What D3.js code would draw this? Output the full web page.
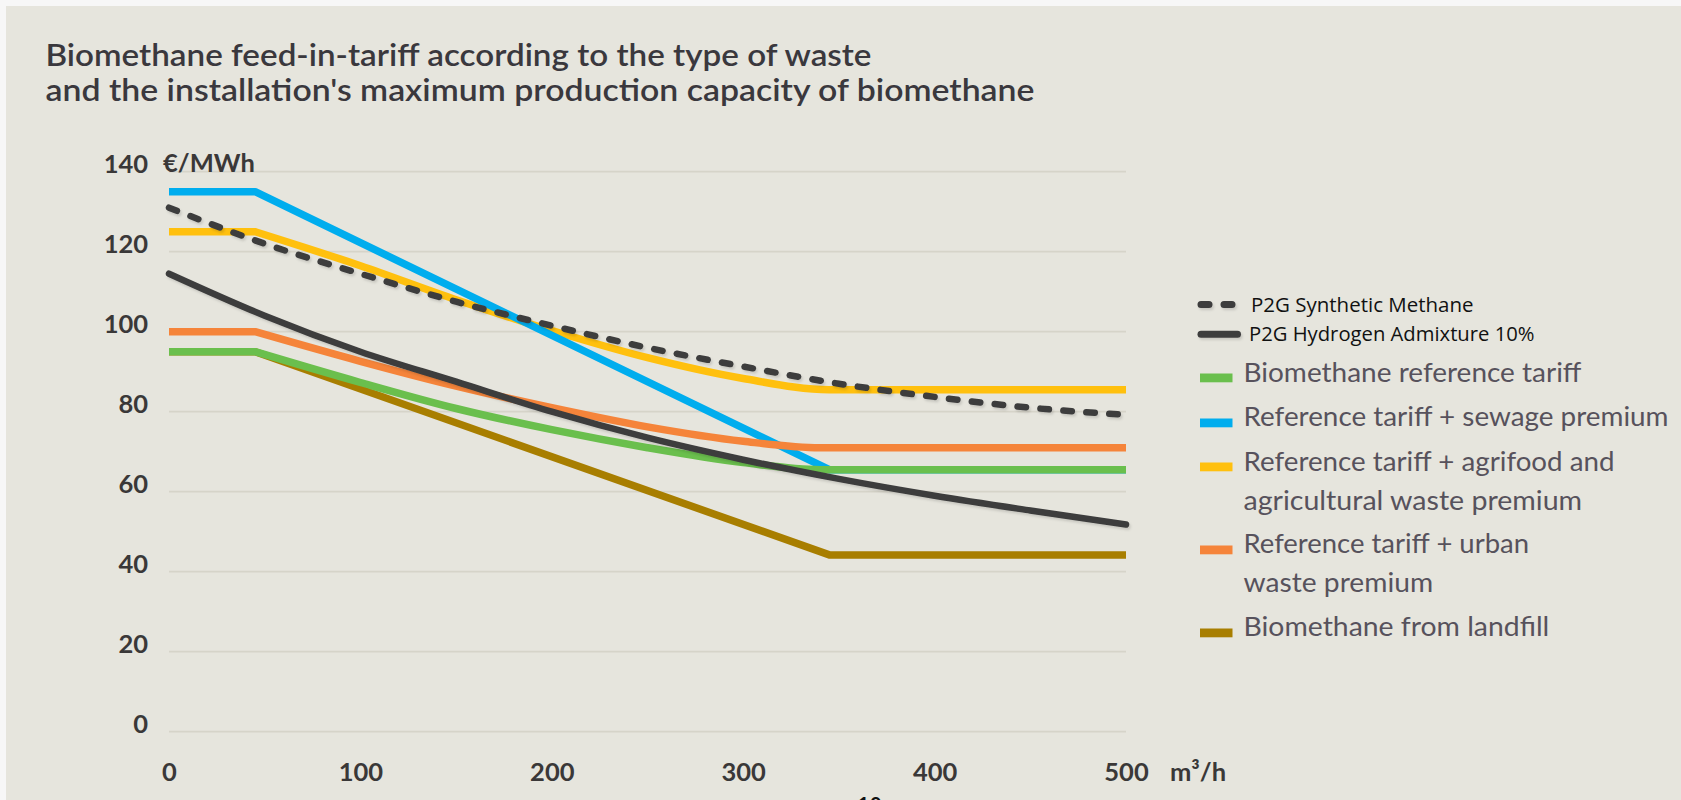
<!DOCTYPE html>
<html>
<head>
<meta charset="utf-8">
<script src="https://cdn.jsdelivr.net/npm/d3@7"></script>
<style>
  html, body { margin: 0; padding: 0; background: #f7f7f7; overflow: hidden; }
  svg { display: block; }
</style>
</head>
<body>
<svg id="chart" width="1681" height="800"></svg>
<script>
// Axis ticks
const xTicks = [0, 100, 200, 300, 400, 500];
const yTicks = [0, 20, 40, 60, 80, 100, 120, 140];

// Capacity (m³/h) and tariff (€/MWh) for each series
const synthCap   = [0, 50, 100, 150, 200, 250, 300, 350, 400, 450, 500];
const synthTariff = [131, 122, 114.5, 107.5, 101.5, 96, 91.3, 87, 83.7, 81, 79.2];

const hydroCap   = [0, 50, 100, 150, 200, 250, 300, 350, 400, 450, 500];
const hydroTariff = [114.5, 104, 95, 87.5, 80, 73.5, 68, 63.2, 59, 55.3, 51.8];

const refCap     = [0, 45, 100, 150, 200, 250, 300, 340, 500];
const refTariff  = [95, 95, 87.3, 80.8, 75.5, 71, 67.3, 65.5, 65.5];

const sewageCap  = [0, 45, 345, 500];
const sewageTariff = [135, 135, 65.5, 65.5];

const agriCap    = [0, 45, 100, 150, 200, 250, 300, 345, 500];
const agriTariff = [125, 125, 116.5, 108, 100.3, 93.5, 88.3, 85.5, 85.5];

const urbanCap   = [0, 45, 100, 150, 200, 250, 300, 340, 500];
const urbanTariff = [100, 100, 92.6, 86.4, 81, 76.2, 72.6, 71, 71];

const landfillCap = [0, 45, 345, 500];
const landfillTariff = [95, 95, 44.2, 44.2];

const titleLines = [
  "Biomethane feed-in-tariff according to the type of waste",
  "and the installation's maximum production capacity of biomethane"
];

const svg = d3.select("#chart");
const W = 1681, H = 800;

// panel background
svg.append("rect").attr("x", 6).attr("y", 6).attr("width", W - 6).attr("height", H - 6)
  .attr("fill", "#e6e5dd");

// soft drop shadow for the P2G lines (user-space region so flat lines still render)
const defs = svg.append("defs");
const shadow = defs.append("filter").attr("id", "soft-shadow")
  .attr("filterUnits", "userSpaceOnUse")
  .attr("x", 0).attr("y", 0).attr("width", W).attr("height", H);
shadow.append("feDropShadow").attr("dx", 1.5).attr("dy", 2.2).attr("stdDeviation", 0.9)
  .attr("flood-color", "#000").attr("flood-opacity", 0.13);

const x = d3.scaleLinear().domain([0, 500]).range([169, 1126]);
const y = d3.scaleLinear().domain([0, 140]).range([731.7, 171.7]);

// title
const titleFont = "Lato, 'Open Sans', sans-serif";
const titleWidths = [826, 989];
svg.append("g").selectAll("text").data(titleLines).join("text")
  .attr("x", 45.5)
  .attr("y", (d, i) => i === 0 ? 66 : 100.5)
  .attr("font-family", titleFont)
  .attr("font-weight", 600)
  .attr("font-size", 30)
  .attr("fill", "#3a383d")
  .attr("textLength", (d, i) => titleWidths[i])
  .attr("lengthAdjust", "spacingAndGlyphs")
  .text(d => d);

// gridlines
svg.append("g").selectAll("line").data(yTicks).join("line")
  .attr("x1", x(0)).attr("x2", x(500))
  .attr("y1", d => y(d)).attr("y2", d => y(d))
  .attr("stroke", "#d6d4c9").attr("stroke-width", 1.8);

// y axis labels
const yAxis = svg.append("g").attr("transform", `translate(${x(0)},0)`)
  .call(d3.axisLeft(y).tickValues(yTicks).tickSize(0).tickPadding(21));
yAxis.select(".domain").remove();
yAxis.selectAll("text")
  .attr("dy", "0.02em")
  .attr("font-family", titleFont).attr("font-weight", 700).attr("font-size", 25.5)
  .attr("fill", "#3a3838");

svg.append("text").attr("x", 163).attr("y", 172)
  .attr("font-family", titleFont).attr("font-weight", 700).attr("font-size", 25.5)
  .attr("fill", "#3a3838").text("€/MWh");

// x axis labels
const xAxis = svg.append("g").attr("transform", `translate(0,${y(0)})`)
  .call(d3.axisBottom(x).tickValues(xTicks).tickSize(0).tickPadding(49.3));
xAxis.select(".domain").remove();
xAxis.selectAll("text")
  .attr("dy", "0")
  .attr("font-family", titleFont).attr("font-weight", 700).attr("font-size", 25.5)
  .attr("fill", "#3a3838");

svg.append("text").attr("x", 1170).attr("y", 781)
  .attr("font-family", titleFont).attr("font-weight", 700).attr("font-size", 25.5)
  .attr("fill", "#3a3838").text("m³/h");

// lines
const toPts = (cap, val) => cap.map((c, i) => [c, val[i]]);
const linear = d3.line().x(d => x(d[0])).y(d => y(d[1])).curve(d3.curveLinear);
const smooth = d3.line().x(d => x(d[0])).y(d => y(d[1])).curve(d3.curveMonotoneX);
// flat start segment, then a smooth run from the knee onwards
const kneeSmooth = pts => {
  const rest = smooth(pts.slice(1));
  return `M${x(pts[0][0])},${y(pts[0][1])}L` + rest.slice(1);
};

const series = [
  { name: "landfill", color: "#a87e00", d: linear(toPts(landfillCap, landfillTariff)) },
  { name: "agri", color: "#ffc00e", d: kneeSmooth(toPts(agriCap, agriTariff)) },
  { name: "sewage", color: "#00adee", d: linear(toPts(sewageCap, sewageTariff)) },
  { name: "urban", color: "#f5843a", d: kneeSmooth(toPts(urbanCap, urbanTariff)) },
  { name: "reference", color: "#6abf4d", d: kneeSmooth(toPts(refCap, refTariff)) }
];

svg.append("g").selectAll("path").data(series).join("path")
  .attr("d", d => d.d)
  .attr("fill", "none")
  .attr("stroke", d => d.color)
  .attr("stroke-width", 7.5)
  .attr("stroke-linejoin", "round");

svg.append("path")
  .attr("d", smooth(toPts(hydroCap, hydroTariff)))
  .attr("fill", "none").attr("stroke", "#3d3d3d").attr("stroke-width", 6.5)
  .attr("stroke-linecap", "round").attr("filter", "url(#soft-shadow)");

svg.append("path")
  .attr("d", smooth(toPts(synthCap, synthTariff)))
  .attr("fill", "none").attr("stroke", "#3d3d3d").attr("stroke-width", 6.5)
  .attr("stroke-linecap", "round").attr("stroke-dasharray", "8.5,14.5")
  .attr("filter", "url(#soft-shadow)");

// legend: P2G entries
const legendP2G = [
  { label: "P2G Synthetic Methane", dashed: true, cy: 304.5, base: 312.2, tx: 1251, w: 222.5 },
  { label: "P2G Hydrogen Admixture 10%", dashed: false, cy: 334.2, base: 341, tx: 1249, w: 285.5 }
];
const lg1 = svg.append("g");
legendP2G.forEach(e => {
  lg1.append("line")
    .attr("x1", 1201).attr("x2", e.dashed ? 1233 : 1237.5)
    .attr("y1", e.cy).attr("y2", e.cy)
    .attr("stroke", "#3d3d3d").attr("stroke-width", 7).attr("stroke-linecap", "round")
    .attr("stroke-dasharray", e.dashed ? "8,15" : null)
    .attr("filter", "url(#soft-shadow)");
  lg1.append("text").attr("x", e.tx).attr("y", e.base)
    .attr("font-family", "'Open Sans', 'Noto Sans', sans-serif")
    .attr("font-size", 20.5).attr("fill", "#111")
    .attr("textLength", e.w).attr("lengthAdjust", "spacingAndGlyphs")
    .text(e.label);
});

// legend: tariff entries
const legendItems = [
  { color: "#6abf4d", cy: 377.9, lines: ["Biomethane reference tariff"], base: [382.3], w: [338] },
  { color: "#00adee", cy: 422.9, lines: ["Reference tariff + sewage premium"], base: [426.3], w: [425] },
  { color: "#ffc00e", cy: 466.9, lines: ["Reference tariff + agrifood and", "agricultural waste premium"], base: [471.3, 509.6], w: [371, 338.6] },
  { color: "#f5843a", cy: 549.9, lines: ["Reference tariff + urban", "waste premium"], base: [552.6, 591.5], w: [285.5, 189.6] },
  { color: "#a87e00", cy: 632.9, lines: ["Biomethane from landfill"], base: [635.6], w: [305.8] }
];
const lg2 = svg.append("g");
legendItems.forEach(e => {
  lg2.append("rect").attr("x", 1200).attr("y", e.cy - 4.4)
    .attr("width", 32.5).attr("height", 8.8).attr("fill", e.color);
  e.lines.forEach((t, i) => {
    lg2.append("text").attr("x", 1243.5).attr("y", e.base[i])
      .attr("font-family", titleFont).attr("font-size", 26.5)
      .attr("fill", "#57525c")
      .attr("textLength", e.w[i]).attr("lengthAdjust", "spacingAndGlyphs")
      .text(t);
  });
});

// page number, cut by the bottom edge
svg.append("text").attr("x", 857).attr("y", 813)
  .attr("font-family", "'Open Sans', sans-serif").attr("font-weight", 600)
  .attr("font-size", 22).attr("fill", "#111").text("10");
</script>
</body>
</html>
